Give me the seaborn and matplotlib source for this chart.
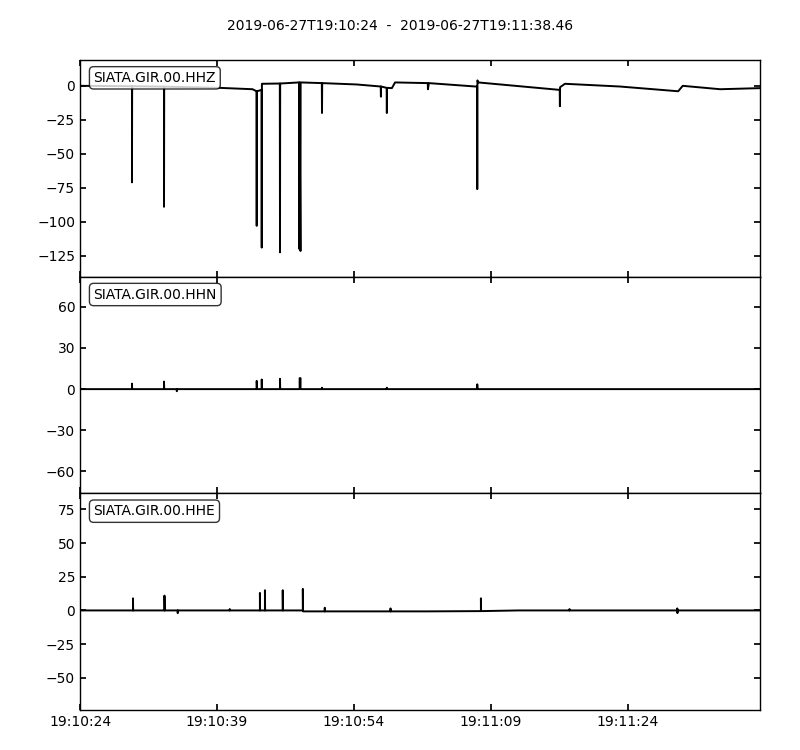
import pandas as pd
import matplotlib
matplotlib.use("Agg")
import matplotlib.pyplot as plt
import matplotlib.dates as mdates
import seaborn as sns

# Trace window
start = pd.Timestamp("2019-06-27 19:10:24")
duration = 74.46  # seconds
title = "2019-06-27T19:10:24  -  2019-06-27T19:11:38.46"

channels = ["SIATA.GIR.00.HHZ", "SIATA.GIR.00.HHN", "SIATA.GIR.00.HHE"]

# Trace vertices: seconds after start, amplitude (counts)
hhz_t = [0, 5.69, 5.69, 5.71, 9.20, 9.20, 9.22, 15.3, 18.9, 19.33, 19.35, 19.37,
         19.88, 19.90, 19.92, 21.88, 21.90, 21.92, 24.00, 24.02, 24.04, 24.14, 24.16,
         26.48, 26.50, 26.52, 30.3, 32.93, 32.95, 32.97, 33.58, 33.60, 33.62,
         34.15, 34.5, 38.08, 38.10, 38.2, 43.3, 43.48, 43.50, 43.52, 43.6,
         52.53, 52.55, 52.57, 53.1, 59.1, 65.5, 66.0, 70.1, 74.46]
hhz_v = [0, -0.3, -71, -0.3, -0.6, -89, -0.6, -1.5, -2.5, -4, -103, -4,
         -3, -119, 1.5, 1.7, -122.5, 1.7, 2.5, -120, 2.5, -121.5, 2.5,
         2, -20, 2, 1, -0.5, -8, -0.5, -1.5, -20, -1.5,
         -1.7, 2.5, 2, -2.5, 2, -0.5, -0.5, -76, 4, 2.5,
         -3, -15, -1, 1.5, -0.5, -4, 0, -2.5, -1.7]

hhn_t = [0, 5.69, 5.69, 5.71, 9.20, 9.20, 9.22, 10.60, 10.60, 10.62,
         19.35, 19.35, 19.37, 19.90, 19.90, 19.92, 21.90, 21.90, 21.92,
         24.05, 24.05, 24.15, 24.15, 26.50, 26.50, 26.52, 33.60, 33.60, 33.62,
         43.50, 43.50, 43.52, 74.46]
hhn_v = [0, 0, 4, 0, 0, 5.5, 0, 0, -1.5, 0,
         0, 6, 0, 0, 7, 0, 0, 7.5, 0,
         0, 8, 8, 0, 0, 1, 0, 0, 1, 0,
         0, 3.5, 0, 0]

hhe_t = [0, 5.80, 5.80, 5.82, 9.25, 9.25, 9.27, 10.70, 10.70, 10.72, 16.4, 16.4, 16.42,
         19.70, 19.70, 19.72, 20.25, 20.25, 20.27, 22.20, 22.20, 22.22,
         24.40, 24.40, 24.42, 26.80, 26.80, 26.82, 34.00, 34.00, 34.02, 38.0,
         43.90, 43.90, 43.92, 48.0, 53.60, 53.60, 53.62,
         65.40, 65.40, 65.42, 65.44, 74.46]
hhe_v = [0, 0, 9, 0, 0, 11, 0, 0, -2, 0, 0, 1, 0,
         0, 13, 0, 0, 15, 0, 0, 15, 0,
         0, 16, -0.7, -0.7, 2, -0.7, -0.7, 1.5, -0.7, -0.7,
         -0.5, 9, -0.5, 0, 0, 1, 0,
         0, 1.5, -2, 0, 0]

traces_t = [hhz_t, hhn_t, hhe_t]
traces_v = [hhz_v, hhn_v, hhe_v]

ylims = [(-140.4, 19), (-76, 82), (-74, 87)]
yticks = [[-125, -100, -75, -50, -25, 0],
          [-60, -30, 0, 30, 60],
          [-50, -25, 0, 25, 50, 75]]

sns.set_theme(style="ticks", rc={
    "xtick.direction": "in", "ytick.direction": "in",
    "xtick.top": True, "ytick.right": True,
    "xtick.major.size": 4, "ytick.major.size": 4,
    "axes.linewidth": 1.0, "axes.edgecolor": "black",
    "xtick.labelsize": 10, "ytick.labelsize": 10,
    "text.color": "black", "xtick.color": "black", "ytick.color": "black",
    "axes.labelcolor": "black",
})
plt.rcParams["font.family"] = ["DejaVu Sans"]

fig, axes = plt.subplots(3, 1, figsize=(8, 7.5), dpi=100, sharex=True)
fig.subplots_adjust(left=0.1, right=0.95, top=0.92, bottom=0.0533, hspace=0)

for ax, name, t, v, lim, yt in zip(axes, channels, traces_t, traces_v, ylims, yticks):
    df = pd.DataFrame({"time": start + pd.to_timedelta(t, unit="s"), "value": v})
    sns.lineplot(data=df, x="time", y="value", ax=ax, color="black", lw=1.4,
                 sort=False, estimator=None)
    ax.set_ylim(*lim)
    ax.set_yticks(yt)
    ax.set_xlabel("")
    ax.set_ylabel("")
    ax.text(0.02, 0.95, name, transform=ax.transAxes, ha="left", va="top",
            fontsize=10, color="black",
            bbox=dict(boxstyle="round", fc="w", ec="black", lw=1.0, alpha=0.8))

axes[-1].set_xlim(start, start + pd.Timedelta(seconds=duration))
axes[-1].xaxis.set_major_locator(mdates.SecondLocator(bysecond=[9, 24, 39, 54]))
axes[-1].xaxis.set_major_formatter(mdates.DateFormatter("%H:%M:%S"))
for ax in axes[:-1]:
    ax.tick_params(labelbottom=False)

fig.suptitle(title, fontsize=10, y=0.975)
fig.savefig("out.png", dpi=100)
